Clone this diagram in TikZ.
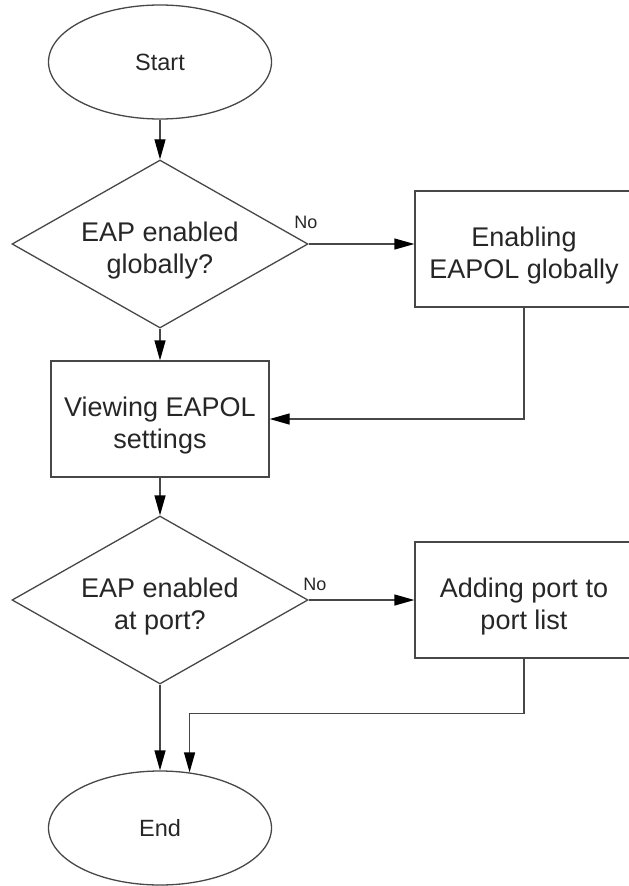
\documentclass[tikz,border=0pt]{standalone}
\usepackage{fontspec}
\setmainfont{Liberation Sans}
\usetikzlibrary{shapes.geometric,arrows.meta,calc}
\begin{document}
\begin{tikzpicture}[x=1pt,y=-1pt,
  line/.style={draw=black!72,line width=1.3pt},
  arr/.style={line,-{Triangle[length=20pt,width=11pt,color=black]}},
  term/.style={ellipse,line,minimum width=223pt,minimum height=114pt,inner sep=0pt,font=\fontsize{23.5}{26}\selectfont,text=black!85},
  proc/.style={rectangle,line,minimum width=218pt,minimum height=116pt,inner sep=0pt},
  dec/.style={diamond,line,aspect=1.76,minimum width=296pt,minimum height=168pt,inner sep=0pt},
  txt/.style={align=center,inner sep=0pt,font=\fontsize{27}{32}\selectfont,text=black!85,yshift=-7pt},
  lbl/.style={font=\fontsize{18}{20}\selectfont,text=black!85,inner sep=0pt}]
\clip (0,0) rectangle (629,886);
\useasboundingbox (0,0) rectangle (629,886);
\node[term] (start) at (160,62) {Start};
\node[dec, label={[txt]center:{EAP enabled\\globally?}}] (d1) at (160,244) {};
\node[proc, label={[txt]center:{Enabling\\EAPOL globally}}] (b1) at (524,249) {};
\node[proc, label={[txt]center:{Viewing EAPOL\\settings}}] (b2) at (160,419) {};
\node[dec, label={[txt]center:{EAP enabled\\at port?}}] (d2) at (160,600) {};
\node[proc, label={[txt]center:{Adding port to\\port list}}] (b3) at (524,600) {};
\node[term] (end) at (160,828) {End};
\node[lbl] (no1) at (306,222) {No};
\node[lbl] (no2) at (315,584) {No};
\draw[arr] (start) -- (d1);
\draw[arr] (d1.east) -- (d1.east -| b1.west);
\draw[arr] (d1) -- (b2);
\draw[arr] (b1.south) |- (b2.east);
\draw[arr] (b2) -- (d2);
\draw[arr] (d2.east) -- (d2.east -| b3.west);
\draw[arr] (d2) -- (end);
\draw[arr] (b3.south) -- ++(0,55) coordinate (k) -| (end.62.6);
\end{tikzpicture}
\end{document}
